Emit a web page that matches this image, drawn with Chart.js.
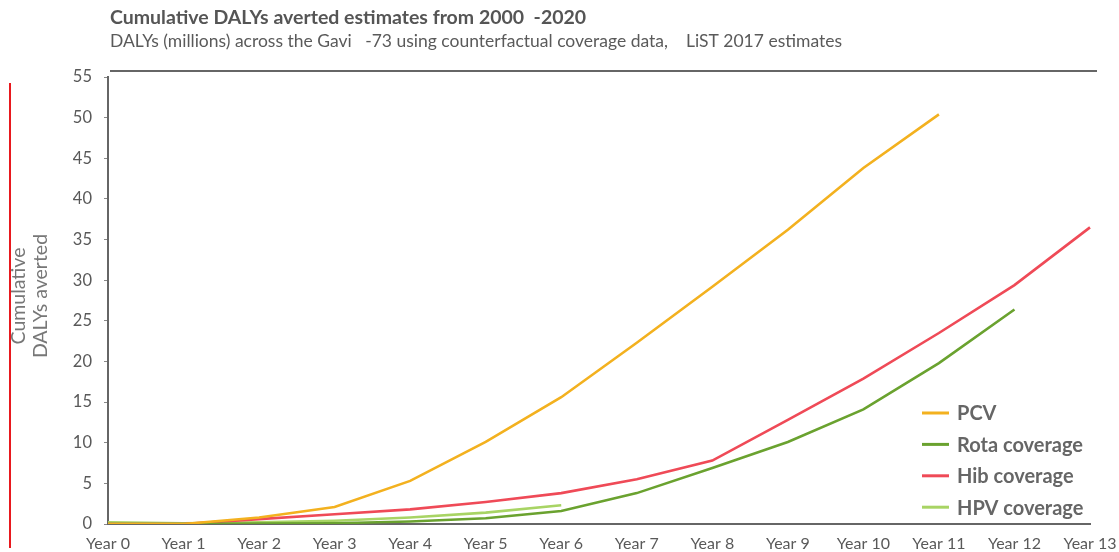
<!DOCTYPE html>
<html>
<head>
<meta charset="utf-8">
<script src="https://cdn.jsdelivr.net/npm/chart.js@4/dist/chart.umd.min.js"></script>
<style>
  html, body { margin: 0; padding: 0; background: #fff; }
  #wrap { width: 1119px; height: 552px; position: relative; }
</style>
</head>
<body>
<div id="wrap"><canvas id="chart"></canvas></div>
<script>
  'use strict';

  // cumulative DALYs averted, millions
  const YEARS = ['Year 0', 'Year 1', 'Year 2', 'Year 3', 'Year 4', 'Year 5', 'Year 6',
                 'Year 7', 'Year 8', 'Year 9', 'Year 10', 'Year 11', 'Year 12', 'Year 13'];
  const PCV  = [0, 0, 0.8, 2.1, 5.3, 10.1, 15.6, 22.3, 29.2, 36.2, 43.8, 50.4];
  const ROTA = [0, 0, 0.05, 0.1, 0.3, 0.7, 1.6, 3.8, 6.9, 10.1, 14.1, 19.8, 26.4];
  const HIB  = [0, 0, 0.6, 1.2, 1.8, 2.7, 3.8, 5.5, 7.8, 12.8, 17.9, 23.5, 29.4, 36.5];
  const HPV  = [0.2, 0.1, 0.2, 0.4, 0.8, 1.4, 2.3];

  const TEXT = '#595959';
  const FONT = 'Lato, "Open Sans", sans-serif';

  // title, subtitle, rules, y title and legend drawn straight on the canvas
  const decor = {
    id: 'decor',
    afterDraw(chart) {
      const { ctx } = chart;
      ctx.save();

      ctx.fillStyle = '#555';
      ctx.textBaseline = 'alphabetic';
      ctx.font = 'bold 19.5px ' + FONT;
      ctx.fillText('Cumulative DALYs averted estimates from 2000  -2020', 110, 24);
      ctx.font = '17.5px ' + FONT;
      ctx.fillStyle = '#5a5a5a';
      ctx.fillText('DALYs (millions) across the Gavi   -73 using counterfactual coverage data,    LiST 2017 estimates', 110, 47);

      // top rule
      ctx.strokeStyle = '#666';
      ctx.lineWidth = 2;
      ctx.beginPath();
      ctx.moveTo(110, 71);
      ctx.lineTo(1097, 71);
      ctx.stroke();

      // red marker on the left edge
      ctx.strokeStyle = '#e8191e';
      ctx.lineWidth = 2;
      ctx.beginPath();
      ctx.moveTo(10, 83);
      ctx.lineTo(10, 548);
      ctx.stroke();

      // y axis title
      ctx.translate(30, 296);
      ctx.rotate(-Math.PI / 2);
      ctx.fillStyle = '#777';
      ctx.font = '19.5px ' + FONT;
      ctx.textAlign = 'center';
      ctx.textBaseline = 'middle';
      ctx.fillText('Cumulative', 0, -11);
      ctx.fillText('DALYs averted', 0, 11);
      ctx.setTransform(1, 0, 0, 1, 0, 0);

      // legend
      ctx.font = 'bold 20px ' + FONT;
      ctx.textAlign = 'left';
      ctx.textBaseline = 'middle';
      chart.data.datasets.forEach((ds, i) => {
        const y = 413 + i * 31.4;
        ctx.strokeStyle = ds.borderColor;
        ctx.lineWidth = 3;
        ctx.beginPath();
        ctx.moveTo(922, y);
        ctx.lineTo(949, y);
        ctx.stroke();
        ctx.fillStyle = '#666';
        ctx.fillText(ds.label, 957, y + 1);
      });

      ctx.restore();
    },
  };

  const line = (label, data, color) => ({
    label, data,
    borderColor: color,
    backgroundColor: color,
    borderWidth: 2.6,
    pointRadius: 0,
    tension: 0,
    fill: false,
  });

  new Chart(document.getElementById('chart'), {
    type: 'line',
    data: {
      labels: YEARS,
      datasets: [
        line('PCV', PCV, '#f3b11f'),
        line('Rota coverage', ROTA, '#6aa22f'),
        line('Hib coverage', HIB, '#ef4a57'),
        line('HPV coverage', HPV, '#a8d464'),
      ],
    },
    options: {
      responsive: true,
      maintainAspectRatio: false,
      animation: false,
      layout: { padding: { top: 77, right: 29, bottom: 0, left: 0 } },
      scales: {
        x: {
          offset: false,
          grid: { display: false },
          border: { display: true, color: '#666', width: 2 },
          ticks: { color: TEXT, font: { family: FONT, size: 16 }, padding: 2, maxRotation: 0, autoSkip: false },
          afterFit: (s) => { s.height = 28; },
        },
        y: {
          min: 0,
          max: 55,
          grid: { drawOnChartArea: false, drawTicks: true, tickLength: 4, color: '#888', lineWidth: 1 },
          border: { display: true, color: '#666', width: 2 },
          ticks: { stepSize: 5, color: TEXT, font: { family: FONT, size: 16.5 }, padding: 12 },
          afterFit: (s) => { s.width = 108; },
        },
      },
      plugins: {
        legend: { display: false },
        tooltip: { enabled: false },
      },
    },
    plugins: [decor],
  });
</script>
</body>
</html>
